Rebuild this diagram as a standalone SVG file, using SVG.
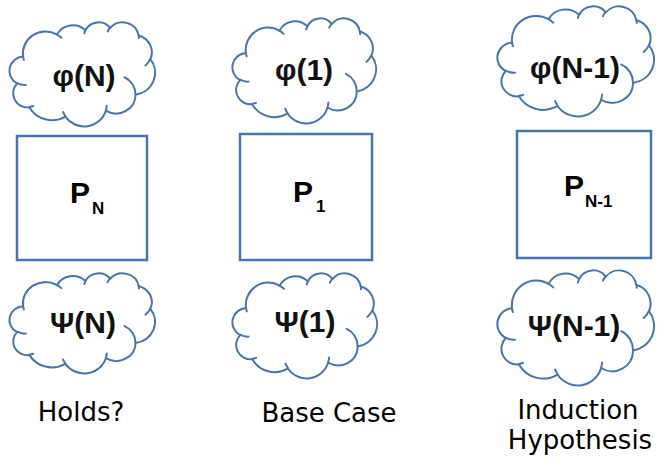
<svg xmlns="http://www.w3.org/2000/svg" xmlns:xlink="http://www.w3.org/1999/xlink" width="657" height="461" viewBox="0 0 657 461">
<style>
.cl{fill:#fff;stroke:#4a74ab;stroke-width:2;vector-effect:non-scaling-stroke;stroke-linejoin:round}
.ci{fill:none;stroke:#4a74ab;stroke-width:2;vector-effect:non-scaling-stroke;stroke-linecap:round}
.box{fill:#fff;stroke:#4a74ab;stroke-width:2.5}
.ct{font-family:"Liberation Sans",Arial,sans-serif;font-weight:bold;font-size:30px;fill:#111;text-anchor:middle}
.p{font-family:"Liberation Sans",Arial,sans-serif;font-weight:bold;font-size:30px;fill:#000}
.sub{font-family:"Liberation Sans",Arial,sans-serif;font-weight:bold;font-size:17px;fill:#000}
.lb{font-family:"DejaVu Sans",sans-serif;font-size:26px;fill:#000;text-anchor:middle}
</style>
<defs>
<g id="cloud">
<path class="cl" d="M3900,14370 A6753,9190 0 0 1 14005.6,5202.1 A5333,7267 0 0 1 22457,3431.5 A4365,5945 0 0 1 29834.1,2480.2 A4857,6595 0 0 1 38319.1,5576 A5333,7273 0 0 1 41819.6,15459.8 A6775,9220 0 0 1 37405.9,30203.4 A5785,7867 0 0 1 28557.9,36813.9 A6752,9215 0 0 1 16482.5,39265.4 A7720,10543 0 0 1 5807.3,35471.8 A4360,5918 0 0 1 2116.5,25549.7 A4345,5945 0 0 1 3900,14370 Z"/>
<path class="ci" d="M4693,26177 A4345,5945 0 0 1 2160,25380 M6928,34899 A4360,5918 0 0 1 5819,35281 M16478,39090 A6752,9215 0 0 1 15810,37350 M28827,34751 A6752,9215 0 0 1 28560,36660 M34129,22954 A5785,7867 0 0 1 37381,30090 M41798,15354 A5333,7273 0 0 1 40349,18031 M38324,5426 A4857,6595 0 0 1 38400,6690 M29078,3952 A4857,6595 0 0 1 29820,2340 M22141,4720 A4365,5945 0 0 1 22500,3330 M14000,5192 A6753,9190 0 0 1 15298,6539 M4127,15789 A6753,9190 0 0 1 3900,14370"/>
</g>
</defs>

<g id="phiN">
<use xlink:href="#cloud" href="#cloud" transform="translate(10,22) scale(0.0033565,0.0024074)"/>
<text class="ct" x="84" y="86">φ(N)</text>
</g>
<g id="PN">
<rect class="box" x="17" y="136" width="130" height="124"/>
<text class="p" x="70" y="203">P</text>
<text class="sub" x="92" y="214">N</text>
</g>
<g id="psiN">
<use xlink:href="#cloud" href="#cloud" transform="translate(10,273) scale(0.0033565,0.0023148)"/>
<text class="ct" x="83" y="333">Ψ(N)</text>
</g>
<text class="lb" x="81" y="421">Holds?</text>

<g id="phi1">
<use xlink:href="#cloud" href="#cloud" transform="translate(233,18) scale(0.0033102,0.0024306)"/>
<text class="ct" x="304" y="80">φ(1)</text>
</g>
<g id="P1">
<rect class="box" x="240" y="134" width="132" height="126"/>
<text class="p" x="293" y="202">P</text>
<text class="sub" x="316" y="212">1</text>
</g>
<g id="psi1">
<use xlink:href="#cloud" href="#cloud" transform="translate(233,273) scale(0.0033333,0.0024306)"/>
<text class="ct" x="305" y="332">Ψ(1)</text>
</g>
<text class="lb" x="329" y="422">Base Case</text>

<g id="phiN1">
<use xlink:href="#cloud" href="#cloud" transform="translate(498,6) scale(0.0036111,0.0025463)"/>
<text class="ct" x="575" y="78">φ(N-1)</text>
</g>
<g id="PN1">
<rect class="box" x="517" y="131" width="134" height="127"/>
<text class="p" x="564" y="196">P</text>
<text class="sub" x="585" y="207">N-1</text>
</g>
<g id="psiN1">
<use xlink:href="#cloud" href="#cloud" transform="translate(498,270) scale(0.0036111,0.0026620)"/>
<text class="ct" x="574" y="336">Ψ(N-1)</text>
</g>
<text class="lb" x="578" y="419">Induction</text>
<text class="lb" x="580" y="449">Hypothesis</text>

<g id="connectors"></g>
</svg>
